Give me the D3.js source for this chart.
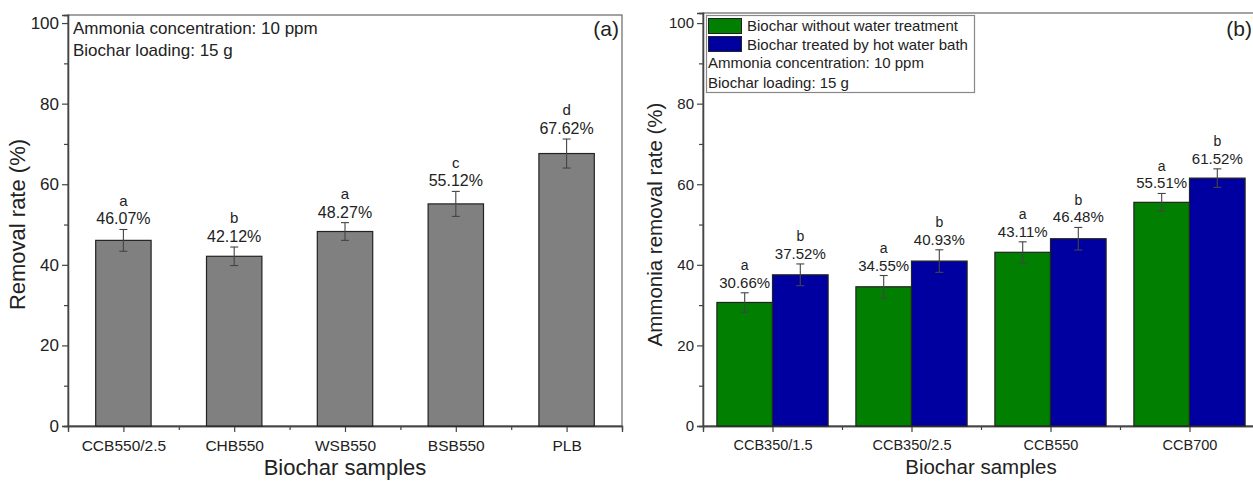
<!DOCTYPE html>
<html>
<head>
<meta charset="utf-8">
<script src="https://cdn.jsdelivr.net/npm/d3@7"></script>
<style>
  body { margin: 0; background: #fff; }
  text { font-family: "Liberation Sans", Arial, sans-serif; fill: #222; }
</style>
</head>
<body>
<div id="chart"></div>
<script>
// panel (a)
var samplesA = ['CCB550/2.5', 'CHB550', 'WSB550', 'BSB550', 'PLB'];
var removalA = [46.07, 42.12, 48.27, 55.12, 67.62];
var errA = [2.7, 2.3, 2.2, 3.1, 3.6];
var lettersA = ['a', 'b', 'a', 'c', 'd'];

// panel (b)
var samplesB = ['CCB350/1.5', 'CCB350/2.5', 'CCB550', 'CCB700'];
var seriesB = ['Biochar without water treatment', 'Biochar treated by hot water bath'];
var untreatedB = [30.66, 34.55, 43.11, 55.51];
var untreatedErrB = [2.4, 2.8, 2.6, 2.2];
var hotWaterB = [37.52, 40.93, 46.48, 61.52];
var hotWaterErrB = [2.7, 2.8, 2.8, 2.3];
var lettersUntreatedB = ['a', 'a', 'a', 'a'];
var lettersHotWaterB = ['b', 'b', 'b', 'b'];

var yTicks = [0, 20, 40, 60, 80, 100];
var yMinorTicks = [10, 30, 50, 70, 90];
var notes = ['Ammonia concentration: 10 ppm', 'Biochar loading: 15 g'];

var seriesColors = ['#007f00', '#0000a0'];
var axisColor = '#444';

var svg = d3.select('#chart').append('svg')
  .attr('width', 1253)
  .attr('height', 481);

function drawAxes(g, x, y, opts){
  var xr = x.range(), yr = y.range();
  // frame
  g.append('rect')
    .attr('x', xr[0]).attr('y', yr[1])
    .attr('width', xr[1] - xr[0]).attr('height', yr[0] - yr[1])
    .attr('fill', 'none').attr('stroke', '#666').attr('stroke-width', 1.2);

  var yAxis = g.append('g').attr('transform', 'translate(' + xr[0] + ',0)')
    .call(d3.axisLeft(y).tickValues(yTicks).tickSize(6).tickPadding(3));
  yAxis.selectAll('text').style('font-size', opts.tickFont + 'px');
  g.append('g').attr('transform', 'translate(' + xr[0] + ',0)')
    .call(d3.axisLeft(y).tickValues(yMinorTicks).tickSize(4).tickFormat(''));

  var xAxis = g.append('g').attr('transform', 'translate(0,' + yr[0] + ')')
    .call(d3.axisBottom(x).tickValues(opts.cats.map(function(d, i){ return i + 1; }))
      .tickFormat(function(d){ return opts.cats[d - 1]; })
      .tickSize(6).tickPadding(8));
  xAxis.selectAll('text').style('font-size', opts.catFont + 'px');
  g.append('g').attr('transform', 'translate(0,' + yr[0] + ')')
    .call(d3.axisBottom(x).tickValues(opts.cats.slice(1).map(function(d, i){ return i + 1.5; }))
      .tickSize(4).tickFormat(''));

  g.selectAll('.domain').attr('stroke', axisColor).attr('stroke-width', 1.3);
  g.selectAll('.tick line').attr('stroke', axisColor).attr('stroke-width', 1.2);
  g.selectAll('.tick text').style('fill', '#222');

  g.append('text')
    .attr('x', (xr[0] + xr[1]) / 2).attr('y', opts.xTitleY)
    .attr('text-anchor', 'middle').style('font-size', opts.titleFont + 'px')
    .text('Biochar samples');
  g.append('text')
    .attr('transform', 'translate(' + opts.yTitleX + ',' + y(50) + ') rotate(-90)')
    .attr('text-anchor', 'middle').style('font-size', opts.titleFont + 'px')
    .text(opts.yTitle);
}

function drawBars(g, x, y, vals, errs, letters, offset, width, color, numFont, letFont){
  var bars = g.append('g');
  bars.selectAll('rect').data(vals).enter().append('rect')
    .attr('x', function(d, i){ return x(i + 1 + offset - width / 2); })
    .attr('y', function(d){ return y(d); })
    .attr('width', function(){ return x(1 + width) - x(1); })
    .attr('height', function(d){ return y(0) - y(d); })
    .attr('fill', color).attr('stroke', '#222').attr('stroke-width', 1.2);

  var eb = g.append('g').attr('stroke', '#444').attr('stroke-width', 1.1);
  vals.forEach(function(d, i){
    var cx = x(i + 1 + offset);
    eb.append('line').attr('x1', cx).attr('x2', cx)
      .attr('y1', y(d + errs[i])).attr('y2', y(d - errs[i]));
    [d + errs[i], d - errs[i]].forEach(function(v){
      eb.append('line').attr('x1', cx - 4).attr('x2', cx + 4)
        .attr('y1', y(v)).attr('y2', y(v));
    });
    g.append('text').attr('x', cx).attr('y', y(d + errs[i]) - 5)
      .attr('text-anchor', 'middle').style('font-size', numFont + 'px')
      .text(d.toFixed(2) + '%');
    g.append('text').attr('x', cx).attr('y', y(d + errs[i]) - 5 - numFont * 1.18)
      .attr('text-anchor', 'middle').style('font-size', letFont + 'px')
      .text(letters[i]);
  });
}

// ---------- panel (a) ----------
var gA = svg.append('g');
var xA = d3.scaleLinear().domain([0.5, samplesA.length + 0.5]).range([68, 622]);
var yA = d3.scaleLinear().domain([0, 102]).range([426, 15]);
drawAxes(gA, xA, yA, {cats: samplesA, tickFont: 17, catFont: 15.5, titleFont: 22,
  xTitleY: 475, yTitleX: 25, yTitle: 'Removal rate (%)'});
drawBars(gA, xA, yA, removalA, errA, lettersA, 0, 0.5, '#808080', 16, 15);
notes.forEach(function(t, i){
  gA.append('text').attr('x', 73).attr('y', 34 + i * 22)
    .style('font-size', '17px').text(t);
});
gA.append('text').attr('x', 619).attr('y', 36).attr('text-anchor', 'end')
  .style('font-size', '21px').text('(a)');

// ---------- panel (b) ----------
var gB = svg.append('g');
var xB = d3.scaleLinear().domain([0.5, samplesB.length + 0.5]).range([703, 1259]);
var yB = d3.scaleLinear().domain([0, 102.5]).range([426, 13]);
drawAxes(gB, xB, yB, {cats: samplesB, tickFont: 15, catFont: 14.5, titleFont: 20.5,
  xTitleY: 474, yTitleX: 662, yTitle: 'Ammonia removal rate (%)'});
drawBars(gB, xB, yB, untreatedB, untreatedErrB, lettersUntreatedB, -0.2, 0.4, seriesColors[0], 15, 14);
drawBars(gB, xB, yB, hotWaterB, hotWaterErrB, lettersHotWaterB, 0.2, 0.4, seriesColors[1], 15, 14);
gB.append('text').attr('x', 1252).attr('y', 36).attr('text-anchor', 'end')
  .style('font-size', '21px').text('(b)');

// legend box
var leg = gB.append('g');
leg.append('rect').attr('x', 706.5).attr('y', 15.5).attr('width', 268).attr('height', 77)
  .attr('fill', '#fff').attr('stroke', '#888').attr('stroke-width', 1.2);
seriesB.forEach(function(s, i){
  leg.append('rect').attr('x', 708.5).attr('y', 18.5 + i * 18).attr('width', 33).attr('height', 15)
    .attr('fill', seriesColors[i]).attr('stroke', '#222').attr('stroke-width', 1);
  leg.append('text').attr('x', 747).attr('y', 31 + i * 18.5)
    .style('font-size', '15px').text(s);
});
notes.forEach(function(t, i){
  leg.append('text').attr('x', 708).attr('y', 68 + i * 20)
    .style('font-size', '15px').text(t);
});
</script>
</body>
</html>
